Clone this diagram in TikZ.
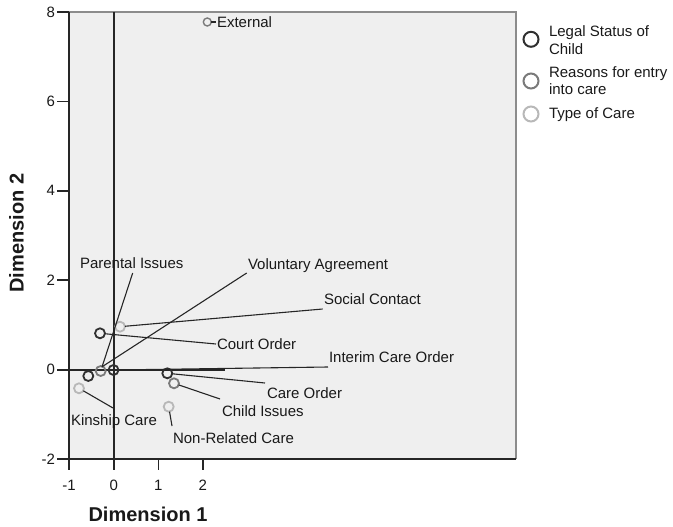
\documentclass[tikz,border=0pt]{standalone}
\usepackage{fontspec}
\setmainfont{Liberation Sans}
\begin{document}
\begin{tikzpicture}[x=1pt,y=-1pt,
  every node/.style={inner sep=0pt, outer sep=0pt},
  lbl/.style={anchor=base west, font=\fontsize{15}{17.5}\selectfont, text=black!90},
  ticklbl/.style={font=\fontsize{15}{17.5}\selectfont, text=black!90},
  axtitle/.style={font=\fontsize{20}{24}\selectfont\bfseries, text=black!90},
  ptc/.style={circle, draw=#1, line width=1.8pt, minimum size=10pt, fill=none},
  legc/.style={circle, draw=#1, line width=2pt, minimum size=15pt},
  lead/.style={draw=black!85, line width=1.1pt},
  axisl/.style={draw=black!85, line width=1.6pt},
]
\definecolor{cdark}{HTML}{303030}
\definecolor{cmed}{HTML}{7A7A7A}
\definecolor{clight}{HTML}{B8B8B8}
\definecolor{plotbg}{HTML}{EFEFEF}
\definecolor{framec}{HTML}{8C8C8C}
\useasboundingbox (0,0) rectangle (673,527);
% plot area
\fill[plotbg] (69,12) rectangle (516,459);
\draw[framec, line width=1.6pt] (69,12) -- (516,12) -- (516,459);
% axes
\draw[axisl] (69,12) -- (69,470);
\draw[axisl] (57,459) -- (516,459);
\foreach \yy in {12,101.4,190.8,280.2,369.6} \draw[axisl] (57,\yy) -- (69,\yy);
\foreach \xx in {113.7,158.3,202.7} \draw[axisl] (\xx,459) -- (\xx,470);
% reference lines
\draw[axisl] (113.7,12) -- (113.7,459);
\draw[axisl] (57,370) -- (225,370);
% tick labels
\node[ticklbl, anchor=east] (t8) at (55,12) {8};
\node[ticklbl, anchor=east] (t6) at (55,101.4) {6};
\node[ticklbl, anchor=east] (t4) at (55,190.8) {4};
\node[ticklbl, anchor=east] (t2) at (55,280.2) {2};
\node[ticklbl, anchor=east] (t0) at (55,369.6) {0};
\node[ticklbl, anchor=east] (tm2) at (55,459) {-2};
\node[ticklbl] (xm1) at (69,485) {-1};
\node[ticklbl] (x0) at (113.7,485) {0};
\node[ticklbl] (x1) at (158.3,485) {1};
\node[ticklbl] (x2) at (202.7,485) {2};
% axis titles
\node[axtitle] (d1) at (148,514) {Dimension 1};
\node[axtitle, rotate=90] (d2) at (16.5,233) {Dimension 2};
% points
\node[ptc=cmed, minimum size=8pt, line width=1.4pt] (ex) at (207.3,22) {};
\node[ptc=cdark] (co) at (100,333.3) {};
\node[ptc=clight] (sc) at (120,326.7) {};
\node[ptc=cmed] (pi) at (100.7,371) {};
\node[ptc=cdark] (va) at (88.3,376) {};
\node[ptc=cdark] (ico) at (113.5,370) {};
\node[ptc=cdark] (cao) at (167.3,373.3) {};
\node[ptc=cmed] (ci) at (174,383.3) {};
\node[ptc=clight] (kc) at (79,388.3) {};
\node[ptc=clight] (nr) at (168.7,406.7) {};
% labels
\node[lbl] (lex) at (217,27.6) {External};
\node[lbl] (lpi) at (80,268.6) {Parental Issues};
\node[lbl] (lva) at (248,269.3) {Voluntary Agreement};
\node[lbl] (lsc) at (324,304.8) {Social Contact};
\node[lbl] (lco) at (217,349.6) {Court Order};
\node[lbl] (lico) at (329,362.8) {Interim Care Order};
\node[lbl] (lcao) at (267,398.2) {Care Order};
\node[lbl] (lci) at (222,416.2) {Child Issues};
\node[lbl] (lnr) at (173,443.6) {Non-Related Care};
\node[lbl] (lkc) at (71,425.6) {Kinship Care};
% leader end coordinates
\coordinate (eex) at (216,22);
\coordinate (epi) at (132.7,273);
\coordinate (eva1) at (246.7,273);
\coordinate (eva2) at (101.7,367);
\coordinate (esc) at (322.7,309);
\coordinate (eco) at (216,344);
\coordinate (eico) at (328,367);
\coordinate (ecao) at (265,383);
\coordinate (eci) at (220,399);
\coordinate (enr) at (172,426);
\coordinate (ekc) at (113,408);
% leaders
\draw[lead] (ex) -- (eex);
\draw[lead] (epi) -- (pi);
\draw[lead] (eva1) -- (eva2);
\draw[lead] (sc) -- (esc);
\draw[lead] (co) -- (eco);
\draw[lead] (ico) -- (eico);
\draw[lead] (cao) -- (ecao);
\draw[lead] (ci) -- (eci);
\draw[lead] (nr) -- (enr);
\draw[lead] (kc) -- (ekc);
% legend
\node[legc=cdark] (lg1) at (531,39.3) {};
\node[legc=cmed] (lg2) at (531,81) {};
\node[legc=clight] (lg3) at (531,114) {};
\node[lbl] (lt1a) at (549,36.8) {Legal Status of};
\node[lbl] (lt1b) at (549,54.8) {Child};
\node[lbl] (lt2a) at (549,78) {Reasons for entry};
\node[lbl] (lt2b) at (549,94.3) {into care};
\node[lbl] (lt3) at (549,119) {Type of Care};
\end{tikzpicture}
\end{document}
